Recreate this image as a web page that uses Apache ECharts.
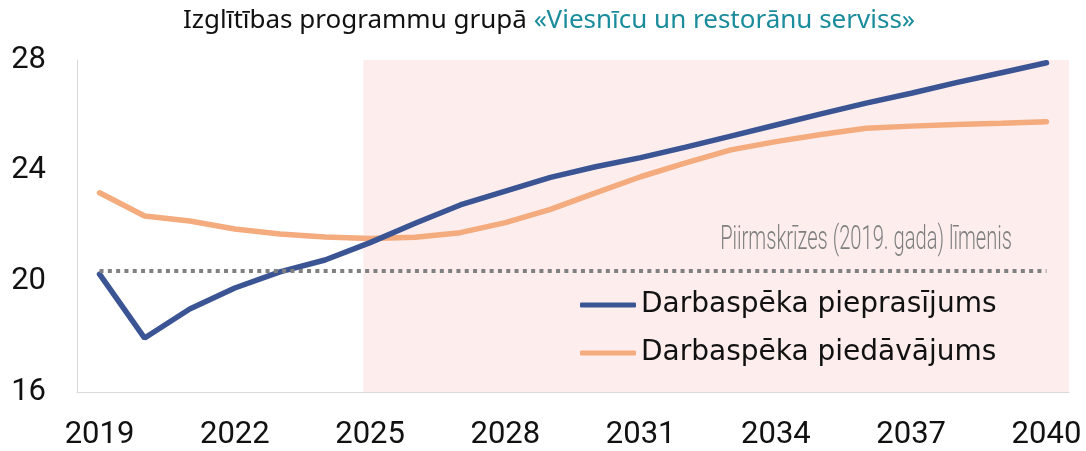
<!DOCTYPE html>
<html>
<head>
<meta charset="utf-8">
<script src="https://cdn.jsdelivr.net/npm/echarts@6/dist/echarts.min.js"></script>
<style>
  html, body { margin: 0; padding: 0; background: #fff; }
  #main { width: 1086px; height: 451px; }
</style>
</head>
<body>
<div id="main"></div>
<script>
// gadi
var years = ['2019','2020','2021','2022','2023','2024','2025','2026','2027','2028','2029',
  '2030','2031','2032','2033','2034','2035','2036','2037','2038','2039','2040'];
// pieprasījums (tūkst.)
var demand = [20.26, 17.95, 19.0, 19.76, 20.34, 20.77, 21.4, 22.1, 22.76, 23.26, 23.76,
  24.14, 24.47, 24.85, 25.25, 25.65, 26.05, 26.44, 26.8, 27.18, 27.54, 27.9];
// piedāvājums
var supply = [23.2, 22.36, 22.18, 21.89, 21.71, 21.6, 21.55, 21.59, 21.76, 22.12, 22.6,
  23.2, 23.78, 24.28, 24.75, 25.05, 25.31, 25.53, 25.61, 25.67, 25.71, 25.77];
var baseline = 20.37; // pirmskrīzes līmenis
var yTicks = [16, 20, 24, 28];
var forecastFrom = 2024.85, forecastTo = 2040.56;

var chart = echarts.init(document.getElementById('main'));

var option = {
  animation: false,
  title: {
    left: 178,
    top: 3,
    text: '{a|Izglītības programmu grupā }{b|«Viesnīcu un restorānu serviss»}',
    textStyle: {
      rich: {
        a: { fontFamily: 'Noto Sans', fontSize: 26, fontWeight: 'normal', color: '#111' },
        b: { fontFamily: 'Noto Sans', fontSize: 26, fontWeight: 'normal', color: '#1a8c9c' }
      }
    }
  },
  grid: { left: 77, right: 17, top: 60, bottom: 59 },
  legend: {
    orient: 'vertical',
    left: 575,
    top: 285,
    itemWidth: 56,
    itemHeight: 5,
    itemGap: 18,
    icon: 'roundRect',
    textStyle: { fontFamily: 'DejaVu Sans', fontSize: 28, color: '#111', lineHeight: 30 },
    data: ['Darbaspēka pieprasījums', 'Darbaspēka piedāvājums']
  },
  xAxis: [{
    type: 'category',
    data: years,
    axisLine: { lineStyle: { color: '#d9d9d9', width: 1 } },
    axisTick: { show: false },
    axisLabel: { interval: 2, margin: 28, fontFamily: 'Roboto', fontSize: 31, color: '#111' }
  }, {
    type: 'value',
    min: 2018.5,
    max: 2040.5,
    show: false
  }],
  yAxis: {
    type: 'value',
    min: yTicks[0],
    max: yTicks[yTicks.length - 1],
    interval: 4,
    splitLine: { show: false },
    axisLine: { show: true, lineStyle: { color: '#d9d9d9', width: 1 } },
    axisTick: { show: false },
    axisLabel: { margin: 31, fontFamily: 'Roboto', fontSize: 31, color: '#111' }
  },
  graphic: [{
    type: 'text',
    x: 1012,
    y: 241,
    z: 100,
    scaleX: 0.61,
    style: {
      text: 'Piirmskrīzes (2019. gada) līmenis',
      fontFamily: 'Roboto',
      fontSize: 33,
      fontWeight: 300,
      fill: '#7f7f7f',
      align: 'right',
      verticalAlign: 'middle'
    }
  }],
  series: [
    {
      name: 'prognoze',
      type: 'line',
      xAxisIndex: 1,
      data: [],
      z: 0,
      clip: false,
      silent: true,
      markArea: {
        silent: true,
        itemStyle: { color: '#fdeeed' },
        data: [[{ xAxis: forecastFrom, yAxis: 16 }, { xAxis: forecastTo, yAxis: 28.47 }]]
      }
    },
    {
      name: 'Darbaspēka pieprasījums',
      type: 'line',
      data: demand,
      symbol: 'none',
      z: 3,
      lineStyle: { color: '#3b5494', width: 5.5, cap: 'round' },
      itemStyle: { color: '#3b5494' },
      markLine: {
        silent: true,
        symbol: 'none',
        label: { show: false },
        lineStyle: { color: '#808080', width: 4, type: [4, 4.3] },
        data: [[{ coord: ['2019', baseline] }, { coord: ['2040', baseline] }]]
      }
    },
    {
      name: 'Darbaspēka piedāvājums',
      type: 'line',
      data: supply,
      symbol: 'none',
      z: 2,
      lineStyle: { color: '#f4ab7d', width: 5.5, cap: 'round' },
      itemStyle: { color: '#f4ab7d' }
    }
  ]
};

chart.setOption(option);
</script>
</body>
</html>
